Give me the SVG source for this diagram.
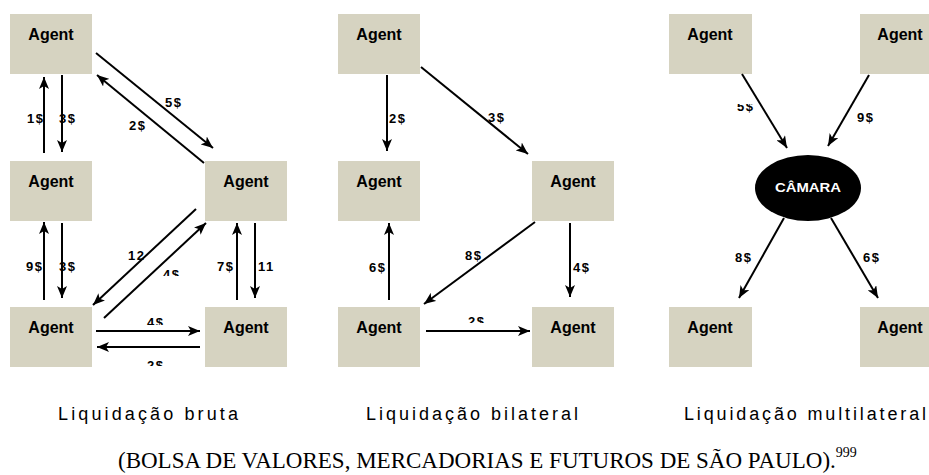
<svg xmlns="http://www.w3.org/2000/svg" width="929" height="475" viewBox="0 0 929 475">
  <defs>
    <style>
      .box { fill: #d6d3c1; }
      .agent { font-family: "Liberation Sans", Arial, sans-serif; font-weight: bold; font-size: 16px; fill: #000; text-anchor: middle; }
      .lbl { font-family: "Liberation Sans", Arial, sans-serif; font-weight: bold; font-size: 13px; letter-spacing: 1.5px; fill: #000; }
      .edge { stroke: #000; stroke-width: 2; fill: none; marker-end: url(#head); }
      .cap { font-family: "Liberation Sans", Arial, sans-serif; font-size: 18px; fill: #000; }
      .cite { font-family: "Liberation Serif", "Times New Roman", serif; font-size: 23px; fill: #000; }
    </style>
    <marker id="head" viewBox="0 0 12 10" refX="12" refY="5" markerWidth="12" markerHeight="10" markerUnits="userSpaceOnUse" orient="auto">
      <path d="M0,0 L12,5 L0,10 L3,5 z" fill="#000"/>
    </marker>
    <clipPath id="cutA"><rect x="0" y="0" width="929" height="276"/></clipPath>
    <clipPath id="cutB"><rect x="0" y="0" width="929" height="325"/></clipPath>
    <clipPath id="cutC"><rect x="0" y="0" width="929" height="366"/></clipPath>
    <clipPath id="cutD"><rect x="0" y="0" width="929" height="323"/></clipPath>
    <clipPath id="cutE"><rect x="0" y="104" width="929" height="300"/></clipPath>
  </defs>

  <!-- Gross settlement -->
  <g id="bruta-agent-tl"><rect class="box" x="10" y="14" width="82" height="60"/><text class="agent" x="51" y="40">Agent</text></g>
  <g id="bruta-agent-ml"><rect class="box" x="10" y="161" width="82" height="60"/><text class="agent" x="51" y="187">Agent</text></g>
  <g id="bruta-agent-bl"><rect class="box" x="10" y="307" width="82" height="60"/><text class="agent" x="51" y="333">Agent</text></g>
  <g id="bruta-agent-mr"><rect class="box" x="205" y="161" width="82" height="60"/><text class="agent" x="246" y="187">Agent</text></g>
  <g id="bruta-agent-br"><rect class="box" x="205" y="307" width="82" height="60"/><text class="agent" x="246" y="333">Agent</text></g>

  <!-- Bilateral settlement -->
  <g id="bilateral-agent-tl"><rect class="box" x="338" y="14" width="82" height="60"/><text class="agent" x="379" y="40">Agent</text></g>
  <g id="bilateral-agent-ml"><rect class="box" x="338" y="161" width="82" height="60"/><text class="agent" x="379" y="187">Agent</text></g>
  <g id="bilateral-agent-bl"><rect class="box" x="338" y="307" width="82" height="60"/><text class="agent" x="379" y="333">Agent</text></g>
  <g id="bilateral-agent-mr"><rect class="box" x="532" y="161" width="82" height="60"/><text class="agent" x="573" y="187">Agent</text></g>
  <g id="bilateral-agent-br"><rect class="box" x="532" y="307" width="82" height="60"/><text class="agent" x="573" y="333">Agent</text></g>

  <!-- Multilateral settlement -->
  <g id="multi-agent-tl"><rect class="box" x="669" y="14" width="83" height="60"/><text class="agent" x="710" y="40">Agent</text></g>
  <g id="multi-agent-tr"><rect class="box" x="860" y="14" width="83" height="60"/><text class="agent" x="900" y="40">Agent</text></g>
  <g id="multi-agent-bl"><rect class="box" x="669" y="307" width="83" height="60"/><text class="agent" x="710" y="333">Agent</text></g>
  <g id="multi-agent-br"><rect class="box" x="860" y="307" width="83" height="60"/><text class="agent" x="900" y="333">Agent</text></g>
  <g id="camara">
    <ellipse cx="808" cy="188" rx="53" ry="33" fill="#000"/>
    <text x="808" y="192" font-family="Liberation Sans, Arial, sans-serif" font-weight="bold" font-size="13" fill="#fff" text-anchor="middle" textLength="66" lengthAdjust="spacingAndGlyphs">CÂMARA</text>
  </g>

  <g id="connectors">
    <!-- gross -->
    <line class="edge" x1="44" y1="153" x2="44" y2="77"/>
    <line class="edge" x1="62" y1="75" x2="62" y2="152"/>
    <line class="edge" x1="96" y1="53" x2="213" y2="148"/>
    <line class="edge" x1="204" y1="163" x2="97" y2="75"/>
    <line class="edge" x1="44" y1="300" x2="44" y2="222"/>
    <line class="edge" x1="62" y1="223" x2="62" y2="298"/>
    <line class="edge" x1="237" y1="300" x2="237" y2="223"/>
    <line class="edge" x1="255" y1="223" x2="255" y2="298"/>
    <line class="edge" x1="196" y1="209" x2="93" y2="305"/>
    <line class="edge" x1="104" y1="318" x2="206" y2="223"/>
    <line class="edge" x1="96" y1="331" x2="200" y2="331"/>
    <line class="edge" x1="200" y1="347" x2="97" y2="347"/>
    <!-- bilateral -->
    <line class="edge" x1="387" y1="75" x2="387" y2="151"/>
    <line class="edge" x1="421" y1="67" x2="528" y2="154"/>
    <line class="edge" x1="535" y1="222" x2="424" y2="304"/>
    <line class="edge" x1="570" y1="223" x2="570" y2="297"/>
    <line class="edge" x1="389" y1="300" x2="389" y2="223"/>
    <line class="edge" x1="426" y1="331" x2="530" y2="331"/>
    <!-- multilateral -->
    <line class="edge" x1="742" y1="74" x2="787" y2="148"/>
    <line class="edge" x1="869" y1="75" x2="828" y2="146"/>
    <line class="edge" x1="784" y1="218" x2="739" y2="298"/>
    <line class="edge" x1="831" y1="218" x2="878" y2="298"/>

    <!-- amounts -->
    <text class="lbl" x="27" y="123">1$</text>
    <text class="lbl" x="59" y="123">3$</text>
    <text class="lbl" x="165" y="107">5$</text>
    <text class="lbl" x="129" y="130">2$</text>
    <text class="lbl" x="26" y="271">9$</text>
    <text class="lbl" x="59" y="271">3$</text>
    <text class="lbl" x="217" y="271">7$</text>
    <text class="lbl" x="258" y="271">11</text>
    <text class="lbl" x="128" y="260">12</text>
    <text class="lbl" x="163" y="279" clip-path="url(#cutA)">4$</text>
    <text class="lbl" x="147" y="327" clip-path="url(#cutB)">4$</text>
    <text class="lbl" x="147" y="370" clip-path="url(#cutC)">2$</text>

    <text class="lbl" x="389" y="123">2$</text>
    <text class="lbl" x="488" y="122">3$</text>
    <text class="lbl" x="465" y="260">8$</text>
    <text class="lbl" x="573" y="272">4$</text>
    <text class="lbl" x="369" y="272">6$</text>
    <text class="lbl" x="468" y="326" clip-path="url(#cutD)">2$</text>

    <text class="lbl" x="737" y="111" clip-path="url(#cutE)">5$</text>
    <text class="lbl" x="857" y="122">9$</text>
    <text class="lbl" x="735" y="262">8$</text>
    <text class="lbl" x="863" y="262">6$</text>
  </g>

  <!-- captions -->
  <text class="cap" x="58" y="420" textLength="180" lengthAdjust="spacing">Liquidação bruta</text>
  <text class="cap" x="366" y="420" textLength="212" lengthAdjust="spacing">Liquidação bilateral</text>
  <text class="cap" x="684" y="420" textLength="242" lengthAdjust="spacing">Liquidação multilateral</text>

  <text class="cite" x="118" y="468">(BOLSA DE VALORES, MERCADORIAS E FUTUROS DE SÃO PAULO).<tspan font-size="14" dy="-11">999</tspan></text>
</svg>
